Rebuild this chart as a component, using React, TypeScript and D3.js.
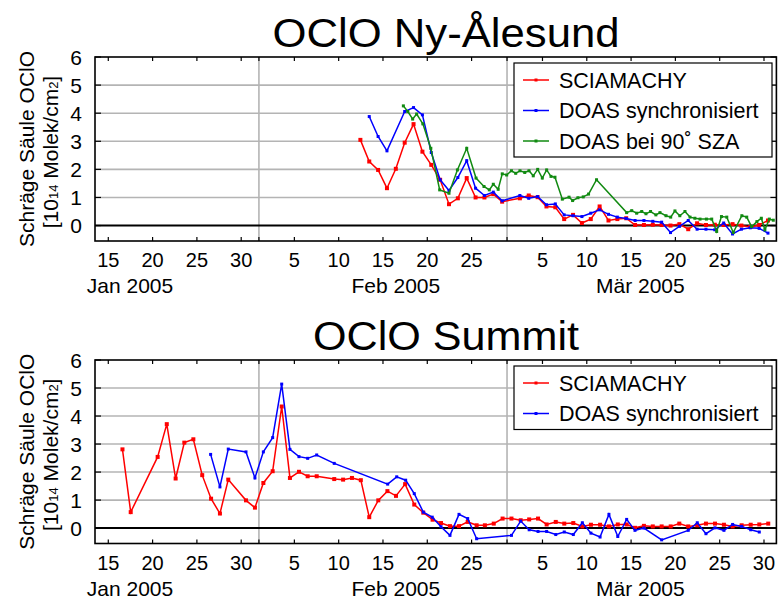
import React, { useRef, useEffect } from 'react'
import { select, scaleLinear, line } from 'd3'

// day of year 2005 (1 = Jan 1), fractional = time of day
const nySciaDays = [43.45,44.45,45.45,46.45,47.45,48.45,49.45,50.45,51.45,52.45,53.45,54.45,55.45,56.45,57.45,58.45,59.45,61.45,62.45,63.45,64.45,65.45,66.45,67.45,68.45,69.45,70.45,71.45,72.45,73.45,74.45,75.45,76.45,77.45,78.45,79.45,80.45,81.45,82.45,83.45,84.45,85.45,86.45,87.45,88.45,89.45]
const nySciaVals = [3.05,2.28,1.98,1.33,2.02,2.95,3.61,2.63,2.16,1.63,0.76,0.97,1.69,1.0,1.0,1.12,0.85,0.97,1.07,1.01,0.68,0.65,0.23,0.38,0.09,0.23,0.68,0.18,0.23,0.26,0.02,0.02,0.03,0.02,0.0,0.05,-0.13,0.08,0.02,0.03,0.02,0.05,0.0,-0.05,0.02,0.18]

const nySyncDays = [44.45,45.45,46.45,48.45,49.45,50.45,51.45,52.45,53.45,54.45,55.45,56.45,57.45,58.45,59.45,61.45,62.45,63.45,64.45,65.45,66.45,67.45,68.45,69.45,70.45,71.45,72.45,73.45,74.45,75.45,76.45,77.45,78.45,79.45,80.45,81.45,82.45,83.45,84.45,85.45,86.45,87.45,88.45,89.45]
const nySyncVals = [3.88,3.17,2.66,4.06,4.2,3.94,2.6,1.63,1.25,1.71,2.31,1.33,1.07,1.19,0.88,1.07,0.97,1.03,0.74,0.77,0.38,0.35,0.32,0.44,0.56,0.4,0.3,0.25,0.18,0.18,0.15,0.12,-0.25,-0.03,0.18,-0.13,-0.13,-0.15,0.09,-0.3,-0.13,-0.08,-0.1,-0.27]

const ny90Days = [48.3,48.8,49.35,49.8,50.5,51.4,52.4,53.45,54.4,55.45,56.5,57.4,58.0,58.45,59.0,59.46,59.96,60.5,60.98,61.46,62.0,62.48,62.96,63.46,63.98,64.47,64.96,65.41,66.24,67.0,67.4,68.0,68.6,69.2,70.1,73.5,74.07,74.63,75.2,75.68,76.2,76.8,77.26,77.94,78.47,78.95,79.5,80.08,80.65,81.2,81.78,82.5,83.1,83.66,84.2,84.8,85.53,86.5,87.05,87.6,88.2,88.7,89.1,89.6,90.05]
const ny90Vals = [4.26,4.06,3.79,3.97,3.62,2.75,1.27,1.15,1.98,2.75,1.69,1.39,1.27,1.47,1.29,1.84,1.8,1.95,1.86,1.95,1.89,1.95,1.77,2.0,1.69,1.98,1.75,1.72,0.94,1.01,0.89,0.99,1.02,1.12,1.63,0.46,0.53,0.44,0.5,0.42,0.5,0.38,0.46,0.35,0.3,0.52,0.35,0.5,0.3,0.26,0.23,0.23,0.23,-0.21,0.32,0.3,-0.25,0.35,0.3,-0.04,0.14,0.26,-0.15,0.23,0.19]

const suSciaDays = [16.6,17.53,20.57,21.6,22.6,23.58,24.6,25.6,26.6,27.6,28.54,30.54,31.55,32.5,33.55,34.57,35.5,36.52,37.5,38.52,40.5,41.5,42.5,43.5,44.45,45.47,46.5,47.47,48.5,49.53,50.55,51.6,52.55,53.56,54.58,55.56,56.57,57.5,58.5,59.5,60.5,61.54,62.5,63.5,64.47,65.5,66.46,67.48,68.5,69.47,70.5,71.5,72.5,73.5,74.44,75.45,76.45,77.45,78.47,79.44,80.45,81.47,82.45,83.47,84.48,85.46,86.48,87.5,88.47,89.48]
const suSciaVals = [2.81,0.57,2.54,3.71,1.77,3.05,3.17,1.89,1.05,0.52,1.73,0.99,0.73,1.61,2.03,4.34,1.79,2.01,1.85,1.85,1.75,1.73,1.79,1.71,0.39,0.99,1.32,1.15,1.57,0.84,0.55,0.3,0.18,0.07,0.07,0.22,0.1,0.1,0.16,0.34,0.34,0.28,0.31,0.34,0.13,0.22,0.16,0.18,0.06,0.12,0.12,0.06,0.13,0.13,0.01,0.08,0.06,0.06,0.06,0.16,0.06,0.1,0.16,0.16,0.12,0.06,0.1,0.12,0.13,0.16]

const suSyncDays = [26.55,27.6,28.54,30.54,31.55,32.5,33.55,34.57,35.5,36.52,37.5,38.52,40.5,46.53,47.55,48.56,49.53,50.55,51.56,52.55,53.56,54.58,55.56,56.57,60.5,61.54,62.5,63.5,64.47,65.5,66.46,67.48,68.5,69.47,70.5,71.5,72.5,73.5,74.44,75.45,77.45,80.45,81.47,82.45,83.47,84.48,85.46,86.48,87.5,88.47]
const suSyncVals = [2.63,1.47,2.82,2.72,1.79,2.72,3.23,5.14,2.81,2.55,2.49,2.61,2.31,1.57,1.83,1.71,1.23,0.57,0.39,0.05,-0.26,0.49,0.34,-0.38,-0.26,0.25,-0.06,-0.12,-0.12,-0.23,-0.14,-0.23,0.19,-0.18,-0.32,0.49,-0.3,0.31,-0.08,0.0,-0.42,-0.08,0.19,-0.2,0.01,-0.08,0.13,0.06,-0.06,-0.14]

const tickDays = [15, 20, 25, 30, 36, 41, 46, 51, 56, 64, 69, 74, 79, 84, 89]
const tickLabels = ['15', '20', '25', '30', '5', '10', '15', '20', '25', '5', '10', '15', '20', '25', '30']
const monthStartDays = [32, 60]
const monthLabels = ['Jan 2005', 'Feb 2005', 'Mär 2005']
const monthLabelDays = [17.45, 47.45, 75.05]
const yTicks = [0, 1, 2, 3, 4, 5, 6]

const FONT = 'Liberation Sans, Arial, Helvetica, sans-serif'

function App() {
  const svgRef = useRef(null)

  useEffect(() => {
    const svg = select(svgRef.current)
    svg.selectAll('*').remove()

    const x = scaleLinear().domain([13.5, 90.4]).range([95, 776.4])

    const panels = [
      {
        title: 'OClO Ny-Ålesund', top: 57, bottom: 241,
        series: [
          { name: 'SCIAMACHY', days: nySciaDays, vals: nySciaVals, color: '#ff0000', mark: 4 },
          { name: 'DOAS synchronisiert', days: nySyncDays, vals: nySyncVals, color: '#0000ff', mark: 3 },
          { name: 'DOAS bei 90˚ SZA', days: ny90Days, vals: ny90Vals, color: '#118a11', mark: 3 },
        ],
      },
      {
        title: 'OClO Summit', top: 360, bottom: 543.5,
        series: [
          { name: 'SCIAMACHY', days: suSciaDays, vals: suSciaVals, color: '#ff0000', mark: 4 },
          { name: 'DOAS synchronisiert', days: suSyncDays, vals: suSyncVals, color: '#0000ff', mark: 3 },
        ],
      },
    ]

    panels.forEach(p => {
      const y = scaleLinear().domain([-0.55, 6]).range([p.bottom, p.top])
      const g = svg.append('g')
      const [x0, x1] = x.range()

      // grid
      g.selectAll('.hgrid').data(yTicks.filter(v => v > 0 && v < 6)).join('line')
        .attr('x1', x0).attr('x2', x1).attr('y1', d => y(d)).attr('y2', d => y(d))
        .attr('stroke', '#b4b4b4').attr('stroke-width', 1.6)
      g.selectAll('.vgrid').data(monthStartDays).join('line')
        .attr('x1', d => x(d)).attr('x2', d => x(d)).attr('y1', p.top).attr('y2', p.bottom)
        .attr('stroke', '#b4b4b4').attr('stroke-width', 1.6)
      g.append('line').attr('x1', x0).attr('x2', x1).attr('y1', y(0)).attr('y2', y(0))
        .attr('stroke', '#000').attr('stroke-width', 2)

      // series
      p.series.forEach(s => {
        const pts = s.days.map((d, i) => [d, s.vals[i]] as [number, number])
        const clip = pts.filter(d => d[0] <= 90.4)
        g.append('path').datum(clip)
          .attr('d', line<[number, number]>().x(d => x(d[0])).y(d => y(d[1])))
          .attr('fill', 'none').attr('stroke', s.color).attr('stroke-width', 1.5)
        g.selectAll(null).data(clip).join('rect')
          .attr('x', d => x(d[0]) - s.mark / 2).attr('y', d => y(d[1]) - s.mark / 2)
          .attr('width', s.mark).attr('height', s.mark).attr('fill', s.color)
      })

      // frame
      g.append('rect').attr('x', x0).attr('y', p.top).attr('width', x1 - x0).attr('height', p.bottom - p.top)
        .attr('fill', 'none').attr('stroke', '#000').attr('stroke-width', 1.6)

      // x ticks (bottom and top, inward)
      const allTicks = tickDays.concat(monthStartDays)
      g.selectAll(null).data(allTicks).join('line')
        .attr('x1', d => x(d)).attr('x2', d => x(d)).attr('y1', p.bottom).attr('y2', p.bottom - 4)
        .attr('stroke', '#000').attr('stroke-width', 1.2)
      g.selectAll(null).data(allTicks).join('line')
        .attr('x1', d => x(d)).attr('x2', d => x(d)).attr('y1', p.top).attr('y2', p.top + 4)
        .attr('stroke', '#000').attr('stroke-width', 1.2)
      g.selectAll(null).data(tickDays).join('text')
        .attr('x', d => x(d)).attr('y', p.bottom + 26)
        .attr('text-anchor', 'middle').attr('font-family', FONT).attr('font-size', 20)
        .text((d, i) => tickLabels[i])
      g.selectAll(null).data(monthLabelDays).join('text')
        .attr('x', d => x(d)).attr('y', p.bottom + 52)
        .attr('text-anchor', 'middle').attr('font-family', FONT).attr('font-size', 21)
        .text((d, i) => monthLabels[i])

      // y ticks
      g.selectAll(null).data(yTicks).join('line')
        .attr('x1', x0).attr('x2', x0 + 6).attr('y1', d => y(d)).attr('y2', d => y(d))
        .attr('stroke', '#000').attr('stroke-width', 1.2)
      g.selectAll(null).data(yTicks).join('line')
        .attr('x1', x1).attr('x2', x1 - 6).attr('y1', d => y(d)).attr('y2', d => y(d))
        .attr('stroke', '#000').attr('stroke-width', 1.2)
      g.selectAll(null).data(yTicks).join('text')
        .attr('x', 82).attr('y', d => y(d) + 7.5)
        .attr('text-anchor', 'end').attr('font-family', FONT).attr('font-size', 21)
        .text(d => d)

      // y label
      const cy = (p.top + p.bottom) / 2
      g.append('text').attr('transform', `translate(34,${cy}) rotate(-90)`)
        .attr('text-anchor', 'middle').attr('font-family', FONT).attr('font-size', 21)
        .text('Schräge Säule OClO')
      const l2 = g.append('text').attr('transform', `translate(58,${cy + 3}) rotate(-90)`)
        .attr('text-anchor', 'middle').attr('font-family', FONT).attr('font-size', 21)
      l2.append('tspan').text('[10')
      l2.append('tspan').attr('font-size', 13).text('14')
      l2.append('tspan').text(' Molek/cm')
      l2.append('tspan').attr('font-size', 13).text('2')
      l2.append('tspan').text(']')

      // title
      g.append('text').attr('x', 446).attr('y', p.top - 10)
        .attr('text-anchor', 'middle').attr('font-family', FONT).attr('font-size', 40)
        .attr('textLength', p.series.length === 3 ? 347 : 266).attr('lengthAdjust', 'spacingAndGlyphs')
        .text(p.title)

      // legend
      const lx = 514, ly = p.top + 6, rowH = 30.5
      const lg = g.append('g')
      lg.append('rect').attr('x', lx).attr('y', ly).attr('width', 258)
        .attr('height', p.series.length * rowH + 2.5)
        .attr('fill', '#fff').attr('stroke', '#000').attr('stroke-width', 1.2)
      p.series.forEach((s, i) => {
        const ry = ly + 17 + i * rowH
        lg.append('line').attr('x1', lx + 9).attr('x2', lx + 35).attr('y1', ry).attr('y2', ry)
          .attr('stroke', s.color).attr('stroke-width', 1.5)
        lg.append('rect').attr('x', lx + 22 - 1.5).attr('y', ry - 1.5).attr('width', 3).attr('height', 3)
          .attr('fill', s.color)
        lg.append('text').attr('x', lx + 45).attr('y', ry + 7.5)
          .attr('font-family', FONT).attr('font-size', 21.5).text(s.name)
      })
    })
  }, [])

  return (
    <svg ref={svgRef} width={781} height={599}
      style={{ position: 'absolute', left: 0, top: 0, background: '#fff' }} />
  )
}

export default App
